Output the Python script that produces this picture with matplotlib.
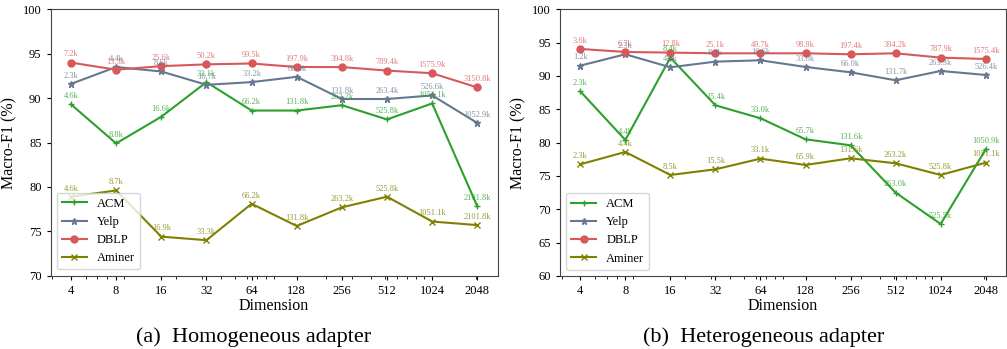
import matplotlib
matplotlib.use("Agg")
import matplotlib.pyplot as plt
from matplotlib.ticker import FixedLocator, NullFormatter, LogLocator

plt.rcParams['font.family'] = ['Liberation Serif', 'DejaVu Serif']

dims = [4, 8, 16, 32, 64, 128, 256, 512, 1024, 2048]
datasets = ["ACM", "Yelp", "DBLP", "Aminer"]

# (a) Homogeneous adapter: Macro-F1 (%) and parameter counts
homo_f1 = {
    "ACM":    [89.3, 84.9, 87.9, 91.8, 88.6, 88.6, 89.2, 87.6, 89.4, 77.8],
    "Yelp":   [91.6, 93.5, 93.0, 91.5, 91.8, 92.4, 89.9, 89.9, 90.3, 87.2],
    "DBLP":   [94.0, 93.2, 93.6, 93.8, 93.9, 93.5, 93.5, 93.1, 92.8, 91.2],
    "Aminer": [78.9, 79.6, 74.4, 74.0, 78.1, 75.6, 77.7, 78.9, 76.1, 75.7],
}
homo_params = {
    "ACM":    ["4.6k", "8.8k", "16.6k", "33.1k", "66.2k", "131.8k", "263.2k", "525.8k", "1051.1k", "2101.8k"],
    "Yelp":   ["2.3k", "4.4k", "8.6k", "16.7k", "33.2k", "66.0k", "131.8k", "263.4k", "526.6k", "1052.9k"],
    "DBLP":   ["7.2k", "13.3k", "25.6k", "50.2k", "99.5k", "197.9k", "394.8k", "789.4k", "1575.9k", "3150.8k"],
    "Aminer": ["4.6k", "8.7k", "16.9k", "33.3k", "66.2k", "131.8k", "263.2k", "525.8k", "1051.1k", "2101.8k"],
}

# (b) Heterogeneous adapter
hetero_f1 = {
    "ACM":    [87.7, 80.4, 92.75, 85.6, 83.65, 80.5, 79.6, 72.5, 67.8, 79.0],
    "Yelp":   [91.55, 93.25, 91.3, 92.15, 92.35, 91.35, 90.55, 89.35, 90.75, 90.15],
    "DBLP":   [94.05, 93.6, 93.5, 93.4, 93.4, 93.4, 93.25, 93.4, 92.75, 92.55],
    "Aminer": [76.75, 78.6, 75.15, 76.0, 77.6, 76.65, 77.65, 76.9, 75.15, 77.0],
}
hetero_params = {
    "ACM":    ["2.3k", "4.4k", "8.4k", "15.4k", "33.0k", "65.7k", "131.6k", "263.0k", "525.5k", "1050.9k"],
    "Yelp":   ["1.2k", "2.3k", "4.4k", "8.4k", "16.6k", "33.0k", "66.0k", "131.7k", "263.3k", "526.4k"],
    "DBLP":   ["3.6k", "6.7k", "12.8k", "25.1k", "49.7k", "98.9k", "197.4k", "394.2k", "787.9k", "1575.4k"],
    "Aminer": ["2.3k", "4.4k", "8.5k", "15.5k", "33.1k", "65.9k", "131.6k", "263.2k", "525.8k", "1051.1k"],
}

colors = {"ACM": "#2ca02c", "Yelp": "#667791", "DBLP": "#d8585b", "Aminer": "#808000"}
markers = {"ACM": "+", "Yelp": "*", "DBLP": "o", "Aminer": "x"}

fig = plt.figure(figsize=(10.07, 3.49), dpi=100)
ax1 = fig.add_axes([0.0503, 0.2100, 0.4439, 0.7633])
ax2 = fig.add_axes([0.5561, 0.2092, 0.4429, 0.7642])


def draw(ax, f1, params, ylim, yticks):
    for name in datasets:
        ax.plot(dims, f1[name], color=colors[name], marker=markers[name],
                markersize=5, linewidth=1.5, label=name)
        # parameter count above each point
        for x, y, t in zip(dims, f1[name], params[name]):
            ax.annotate(t, (x, y), xytext=(0, 3), textcoords="offset points",
                        ha="center", va="bottom", fontsize=6,
                        color=colors[name], alpha=0.8)
    ax.set_xscale("log")
    ax.xaxis.set_major_locator(FixedLocator(dims))
    ax.set_xticklabels([str(d) for d in dims])
    ax.xaxis.set_minor_locator(LogLocator(base=10, subs=range(2, 10)))
    ax.xaxis.set_minor_formatter(NullFormatter())
    ax.set_ylim(*ylim)
    ax.set_yticks(yticks)
    ax.tick_params(labelsize=9, length=3)
    ax.tick_params(which="minor", length=2)
    ax.set_xlabel("Dimension", fontsize=11.5, labelpad=1)
    ax.set_ylabel("Macro-F1 (%)", fontsize=11.5)
    for s in ax.spines.values():
        s.set_color("#444444")
    ax.legend(loc="lower left", fontsize=9, framealpha=0.8)


draw(ax1, homo_f1, homo_params, (70, 100), range(70, 101, 5))
draw(ax2, hetero_f1, hetero_params, (60, 100), range(60, 101, 5))

fig.text(0.252, 0.034, "(a)  Homogeneous adapter", ha="center", va="center", fontsize=16)
fig.text(0.758, 0.034, "(b)  Heterogeneous adapter", ha="center", va="center", fontsize=16)

fig.savefig("out.png", dpi=100)
